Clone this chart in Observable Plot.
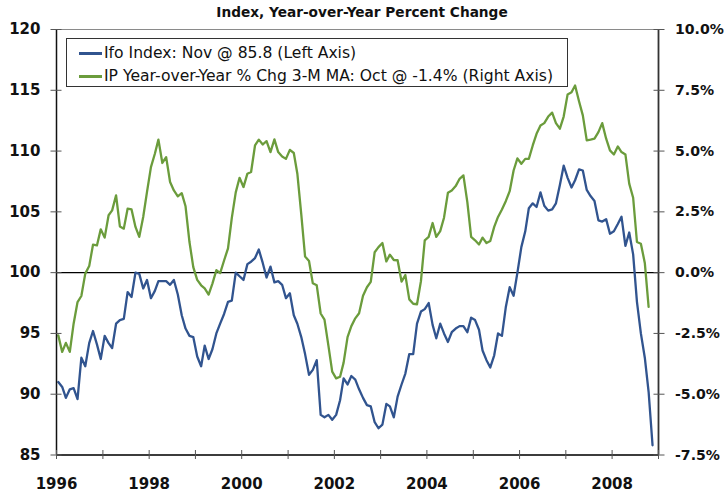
<!DOCTYPE html>
<html>
<head>
<meta charset="utf-8">
<script src="https://cdn.jsdelivr.net/npm/d3@7"></script>
<script src="https://cdn.jsdelivr.net/npm/@observablehq/plot@0.6"></script>
<style>
  html, body { margin: 0; padding: 0; background: #fff; }
  #wrap { position: relative; width: 724px; height: 493px; overflow: hidden; }
  #title { position: absolute; left: 0; width: 724px; top: 4px; text-align: center;
    font-family: "DejaVu Sans", sans-serif; font-weight: bold; font-size: 13.7px; color: #111; }
  #legend { position: absolute; left: 66px; top: 38px; width: 500px; height: 47px;
    border: 1px solid #333; background: #fff;
    font-family: "DejaVu Sans", sans-serif; font-size: 15.6px; color: #111; }
  .row { position: absolute; left: 0; height: 20px; line-height: 20px; white-space: nowrap; }
  .sw { position: absolute; left: 12px; top: 9px; width: 23px; height: 2.5px; }
  .lbl { position: absolute; left: 37px; top: 0; }
</style>
</head>
<body>
<div id="wrap">
  <div id="chart"></div>
  <div id="title"></div>
  <div id="legend"></div>
</div>
<script>
// ---------- data ----------
const titleText = "Index, Year-over-Year Percent Change";
const seriesNames = ["Ifo Index: Nov @ 85.8 (Left Axis)",
                     "IP Year-over-Year % Chg 3-M MA: Oct @ -1.4% (Right Axis)"];
const seriesColors = ["#31548f", "#6b9c3c"];

// Ifo business climate index, monthly, Jan 1996 - Nov 2008
const ifoIndex = [
  91.0, 90.6, 89.7, 90.4, 90.5, 89.6, 93.0, 92.3, 94.2, 95.2, 94.1, 92.9, // 1996
  94.8, 94.2, 93.8, 95.8, 96.1, 96.2, 98.4, 98.0, 100.0, 99.9, 98.7, 99.4, // 1997
  97.9, 98.5, 99.3, 99.3, 99.3, 99.0, 99.4, 98.2, 96.5, 95.4, 94.8, 94.7, // 1998
  93.1, 92.3, 94.0, 92.9, 93.7, 95.0, 95.8, 96.6, 97.6, 97.7, 100.0, 99.7, // 1999
  99.4, 100.7, 100.9, 101.2, 101.9, 100.8, 99.6, 100.5, 99.2, 99.3, 99.0, 97.9, // 2000
  98.3, 96.5, 95.8, 94.7, 93.3, 91.6, 92.0, 92.8, 88.3, 88.1, 88.3, 87.9, // 2001
  88.3, 89.5, 91.3, 90.8, 91.5, 91.2, 90.4, 89.7, 89.1, 89.0, 87.7, 87.2, // 2002
  87.5, 89.2, 89.0, 88.1, 89.8, 90.8, 91.7, 93.3, 93.3, 95.8, 96.8, 97.0, // 2003
  97.5, 95.7, 94.6, 95.8, 95.0, 94.3, 95.1, 95.4, 95.6, 95.6, 95.1, 96.3, // 2004
  96.1, 95.3, 93.6, 92.8, 92.2, 93.2, 95.0, 94.8, 97.2, 98.8, 98.1, 100.0, // 2005
  102.1, 103.4, 105.3, 105.7, 105.4, 106.6, 105.5, 105.1, 105.2, 105.7, 107.2, 108.8, // 2006
  107.8, 107.0, 107.6, 108.5, 108.4, 106.8, 106.3, 105.9, 104.3, 104.2, 104.4, 103.2, // 2007
  103.4, 104.0, 104.6, 102.2, 103.3, 101.5, 97.6, 95.0, 93.0, 90.2, 85.8 // 2008
];

// Industrial production, year-over-year % change, 3-month moving average, Jan 1996 - Oct 2008
const ipYoY = [
  -2.58, -3.26, -2.89, -3.26, -2.10, -1.21, -0.96, -0.04, 0.27, 1.15, 1.12, 1.78, // 1996
  1.44, 2.36, 2.56, 3.18, 1.90, 1.81, 2.63, 2.60, 1.88, 1.47, 2.29, 3.32, // 1997
  4.34, 4.89, 5.47, 4.51, 4.75, 3.73, 3.38, 3.14, 3.27, 2.73, 1.26, 0.23, // 1998
  -0.30, -0.52, -0.65, -0.90, -0.45, 0.10, -0.02, 0.50, 1.00, 2.25, 3.30, 3.90, // 1999
  3.52, 4.07, 4.14, 5.23, 5.47, 5.27, 5.41, 4.96, 5.48, 4.96, 4.78, 4.68, // 2000
  5.05, 4.92, 4.07, 2.40, 0.66, 0.48, -0.44, -0.52, -1.68, -1.93, -3.00, -4.07, // 2001
  -4.35, -4.28, -3.70, -2.65, -2.20, -1.88, -1.67, -0.95, -0.60, -0.38, 0.84, 1.05, // 2002
  1.22, 0.46, 0.74, 0.52, 0.51, -0.37, -0.10, -1.10, -1.28, -1.30, -0.35, 1.33, // 2003
  1.47, 2.04, 1.47, 1.71, 2.26, 3.29, 3.38, 3.56, 3.86, 4.00, 2.90, 1.47, // 2004
  1.33, 1.16, 1.44, 1.22, 1.30, 1.88, 2.29, 2.60, 2.95, 3.35, 4.20, 4.70, // 2005
  4.48, 4.68, 4.68, 5.23, 5.71, 6.05, 6.15, 6.42, 6.58, 6.15, 5.92, 6.42, // 2006
  7.33, 7.42, 7.70, 7.05, 6.47, 5.44, 5.47, 5.51, 5.78, 6.15, 5.51, 5.03, // 2007
  4.86, 5.19, 4.96, 4.86, 3.66, 3.08, 1.26, 1.19, 0.40, -1.41 // 2008
];

const startYear = 1996;
const endYear = 2009;
const tickYears = d3.range(1996, 2010);           // yearly tick marks
const labelYears = [1996, 1998, 2000, 2002, 2004, 2006, 2008];
const leftTicks = [85, 90, 95, 100, 105, 110, 115, 120];
const leftDomain = [85, 120];
// right axis: 10.0% .. -7.5%  <->  left 120 .. 85  (right = (left - 100) / 2)
const rightFromLeft = v => (v - 100) / 2;
const leftFromRight = p => 100 + 2 * p;

// ---------- build ----------
const monthDate = i => new Date(Date.UTC(startYear, i, 15));
const yearDate = y => new Date(Date.UTC(y, 0, 1));
const ifoData = ifoIndex.map((v, i) => ({date: monthDate(i), v}));
const ipData = ipYoY.map((p, i) => ({date: monthDate(i), v: leftFromRight(p)}));

document.getElementById("title").textContent = titleText;
const legend = document.getElementById("legend");
seriesNames.forEach((name, i) => {
  const row = document.createElement("div");
  row.className = "row";
  row.style.top = (i === 0 ? 4 : 27) + "px";
  row.innerHTML = `<div class="sw" style="background:${seriesColors[i]}"></div><div class="lbl"></div>`;
  row.querySelector(".lbl").textContent = name;
  legend.appendChild(row);
});

const font = {fontFamily: "DejaVu Sans, sans-serif", fontSize: 15, fontWeight: "bold", fill: "#111"};
const fontR = {...font, fontSize: 14.1};

const chart = Plot.plot({
  width: 724,
  height: 493,
  marginTop: 29,
  marginLeft: 56,
  marginRight: 66,
  marginBottom: 38.5,
  style: {background: "#fff", overflow: "visible"},
  x: {type: "utc", domain: [yearDate(startYear), yearDate(endYear)], axis: null},
  y: {domain: leftDomain, axis: null},
  marks: [
    Plot.ruleY([120], {stroke: "#8a8a8a", strokeWidth: 1}),
    Plot.ruleY([100], {stroke: "#000", strokeWidth: 1.4}),
    Plot.lineY(ipData, {x: "date", y: "v", stroke: seriesColors[1], strokeWidth: 2.3}),
    Plot.lineY(ifoData, {x: "date", y: "v", stroke: seriesColors[0], strokeWidth: 2.3}),
    // axis lines
    Plot.ruleX([yearDate(startYear)], {stroke: "#111", strokeWidth: 1.5}),
    Plot.ruleX([yearDate(endYear)], {stroke: "#333", strokeWidth: 1.8}),
    Plot.ruleY([85], {stroke: "#3c3c3c", strokeWidth: 2}),
    // left axis ticks (crossing) and labels
    Plot.axisY(leftTicks, {anchor: "left", label: null, tickSize: 11, dx: 5.5, tickFormat: () => "", stroke: "#555"}),
    Plot.axisY(leftTicks, {anchor: "left", label: null, tickSize: 0, tickPadding: 16, tickFormat: d => String(d), ...font}),
    // right axis ticks and labels
    Plot.axisY(leftTicks, {anchor: "right", label: null, tickSize: 11, dx: -5.5, tickFormat: () => "", stroke: "#555"}),
    Plot.axisY(leftTicks, {anchor: "right", label: null, tickSize: 0, tickPadding: 16.5,
      tickFormat: d => rightFromLeft(d).toFixed(1) + "%", ...fontR}),
    // x axis ticks and labels
    Plot.axisX(tickYears.map(yearDate), {anchor: "bottom", label: null, tickSize: 9, dy: -4.5, tickFormat: () => "", stroke: "#555"}),
    Plot.axisX(labelYears.map(yearDate), {anchor: "bottom", label: null, tickSize: 0, tickPadding: 23,
      tickFormat: d => String(d.getUTCFullYear()), ...font})
  ]
});
chart.style.position = "absolute";
chart.style.left = "0px";
chart.style.top = "0px";
document.getElementById("chart").appendChild(chart);
</script>
</body>
</html>
